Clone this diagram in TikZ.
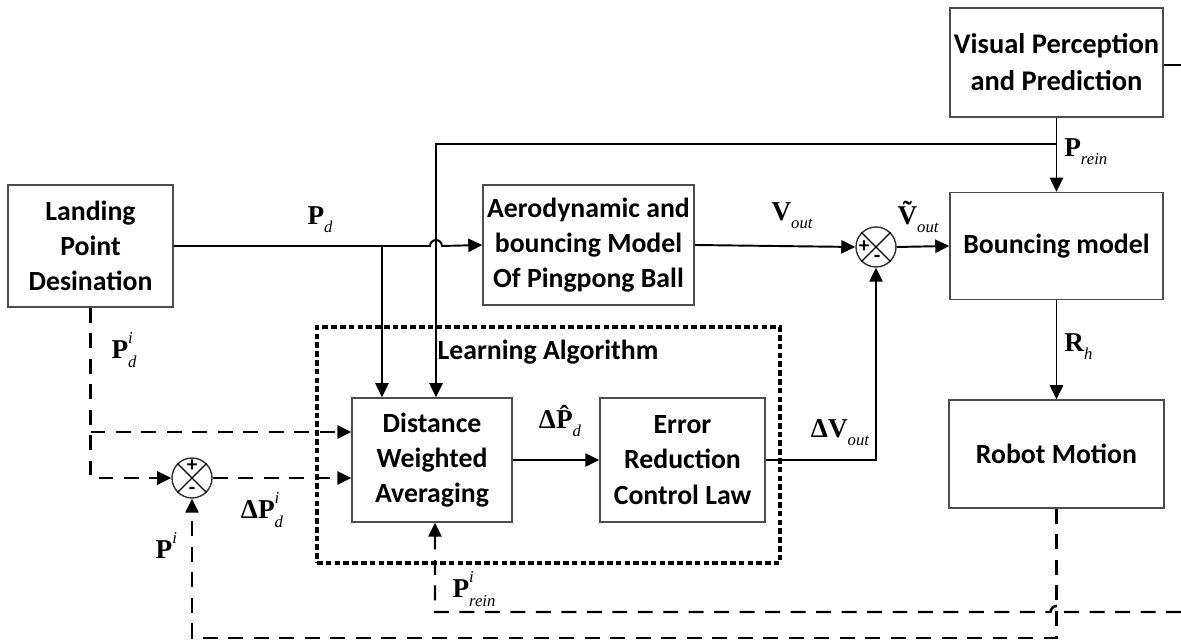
\documentclass[tikz,border=0pt]{standalone}
\usepackage{fontspec}
\setmainfont{Carlito}
\newfontfamily\tm{Liberation Serif}
\usetikzlibrary{arrows.meta}
\newcommand\ml[3]{{\tm\bfseries #1}\rlap{\raisebox{0.55em}{\tm\itshape\fontsize{9.5}{10}\selectfont #3}}\raisebox{-0.3em}{\tm\itshape\fontsize{9.5}{10}\selectfont #2}}
\tikzset{
  box/.style={draw=black!70, line width=0.8pt, align=center, font=\bfseries\fontsize{15.8}{20}\selectfont, inner sep=0pt},
  sl/.style={line width=1.1pt},
  dl/.style={line width=1.4pt, dash pattern=on 8.5pt off 6pt},
  arr/.style={-{Triangle[length=8pt,width=7.5pt]}},
  lab/.style={font=\fontsize{15.5}{18}\selectfont, inner sep=0pt},
  pm/.style={font=\bfseries\fontsize{12}{12}\selectfont, inner sep=0pt},
  sumc/.style={circle, draw=black!80, line width=0.8pt, minimum size=0.8cm, inner sep=0pt}
}
\begin{document}
\begin{tikzpicture}[x=0.02cm, y=-0.02cm]
\useasboundingbox (0,0) rectangle (1181,644);
% boxes
\node[box, minimum width=3.30cm, minimum height=2.44cm] (land) at (90.5,246) {Landing\\Point\\Desination};
\node[box, minimum width=4.22cm, minimum height=2.40cm] (aero) at (588.5,245) {Aerodynamic and\\bouncing Model\\Of Pingpong Ball};
\node[box, minimum width=4.26cm, minimum height=2.18cm, font=\bfseries\fontsize{16.2}{21}\selectfont] (vis) at (1056.5,62.5) {Visual Perception\\and Prediction};
\node[box, minimum width=4.26cm, minimum height=2.14cm] (bounce) at (1056.5,246) {Bouncing model};
\node[box, minimum width=4.30cm, minimum height=2.16cm] (robot) at (1056.5,454) {Robot Motion};
\node[box, minimum width=3.20cm, minimum height=2.48cm] (dwa) at (432,460) {Distance\\Weighted\\Averaging};
\node[box, minimum width=3.30cm, minimum height=2.48cm] (ercl) at (682.5,460) {Error\\Reduction\\Control Law};
% learning algorithm dotted frame
\node[draw, line width=2pt, dash pattern=on 3.2pt off 1.8pt, minimum width=9.26cm, minimum height=4.72cm, inner sep=0pt] (learn) at (548.5,445) {};
\node[lab, font=\bfseries\fontsize{15.8}{18}\selectfont] (ltitle) at (548,352) {Learning Algorithm};
% summing junctions
\node[sumc] (s1) at (192,478) {};
\node[sumc] (s2) at (876,247) {};
\foreach \s in {s1,s2}{
  \draw[line width=0.7pt] (\s.45) -- (\s.225);
  \draw[line width=0.7pt] (\s.135) -- (\s.315);
}
\node[pm] (s1p) at (192,466) {+};
\node[pm] (s1m) at (192,491) {-};
\node[pm] (s2p) at (864,247) {+};
\node[pm] (s2m) at (877,259) {-};
% coordinates
\coordinate (pj) at (1056.5,144);
\coordinate (fd) at (436,144);
\coordinate (pdj) at (382,246);
\coordinate (lb1) at (90.5,432);
\coordinate (lb2) at (90.5,478);
\coordinate (bR) at (1056.5,638);
\coordinate (bL) at (192,638);
\coordinate (rinR) at (1181,612);
\coordinate (rinL) at (435,612);
\coordinate (visR) at (1181,65);
% solid connectors
\draw[sl] (vis.east |- visR) -- (visR);
\draw[sl,arr] (vis.south) -- (bounce.north);
\draw[sl,arr] (pj) -- (fd) -- (fd |- dwa.north);
\draw[sl,arr] (land.east) -- (430,246) arc[start angle=180, end angle=0, radius=3.4pt] -- (aero.west);
\draw[sl,arr] (pdj) -- (pdj |- dwa.north);
\draw[sl,arr] (aero.east) -- (s2.west);
\draw[sl,arr] (s2.east) -- (bounce.west);
\draw[sl,arr] (bounce.south) -- (robot.north);
\draw[sl,arr] (dwa.east) -- (ercl.west);
\draw[sl,arr] (ercl.east) -| (s2.south);
% dashed connectors
\draw[dl,arr] (land.south) -- (lb2) -- (s1.west);
\draw[dl,arr] (lb1) -- (lb1 -| dwa.west);
\draw[dl,arr] (s1.east) -- (s1.east -| dwa.west);
\draw[dl,arr] (robot.south) -- (bR) -- (bL) -- (s1.south);
\draw[dl,arr] (rinR) -- (1062.5,612) arc[start angle=0, end angle=180, radius=3.4pt] -- (rinL) -- (rinL |- dwa.south);
% labels
\node[lab, anchor=west] (lprein) at (1064,152) {\ml{P}{rein}{}};
\node[lab] (lpd) at (320,220) {\ml{P}{d}{}};
\node[lab] (lvout) at (792,216) {\ml{V}{out}{}};
\node[lab] (lvt) at (918,217) {\ml{\~{V}}{out}{}};
\node[lab, anchor=west] (lrh) at (1064,347) {\ml{R}{h}{}};
\node[lab] (lpdi) at (124,350) {\ml{P}{d}{i}};
\node[lab] (ldpdi) at (262,510) {\ml{ΔP}{d}{i}};
\node[lab] (lpi) at (164,550) {\ml{P}{}{i}};
\node[lab] (ldph) at (560,421) {\ml{Δ\^{P}}{d}{}};
\node[lab] (ldv) at (840,433) {\ml{ΔV}{out}{}};
\node[lab] (lpri) at (474,589) {\ml{P}{rein}{i}};
\end{tikzpicture}
\end{document}
